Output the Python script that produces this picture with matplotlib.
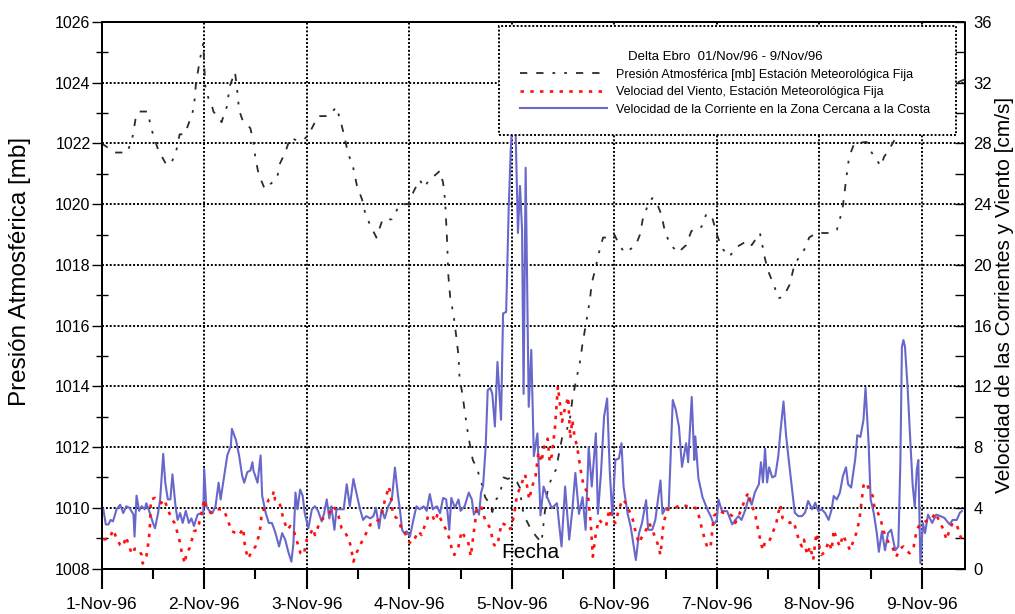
import matplotlib
matplotlib.use("Agg")
import matplotlib.pyplot as plt
import matplotlib.dates as mdates
import matplotlib.patches as mpatches
from matplotlib.lines import Line2D
import numpy as np
import pandas as pd

plt.rcParams['font.family'] = ['Liberation Sans', 'DejaVu Sans']

START = pd.Timestamp('1996-11-01')

# Atmospheric pressure [mb] (day offset from 1-Nov-96, value)
press_day = [0.0, 0.13, 0.25, 0.30, 0.33, 0.36, 0.45, 0.47, 0.50, 0.55, 0.63, 0.68, 0.73, 0.76,
             0.81, 0.88, 0.90, 0.92, 0.96, 0.99, 1.01, 1.04, 1.07, 1.09, 1.17, 1.20, 1.22, 1.25,
             1.30, 1.32, 1.34, 1.37, 1.45, 1.48, 1.50, 1.53, 1.59, 1.71, 1.74, 1.79, 1.84, 1.90,
             1.96, 2.01, 2.05, 2.11, 2.21, 2.29, 2.34, 2.37, 2.40, 2.45, 2.49, 2.54, 2.57, 2.62,
             2.68, 2.74, 2.83, 2.91, 2.99, 3.04, 3.10, 3.15, 3.20, 3.25, 3.30, 3.33, 3.35, 3.37,
             3.38, 3.40, 3.43, 3.46, 3.48, 3.49, 3.52, 3.54, 3.57, 3.60, 3.62, 3.66, 3.71, 3.74,
             3.79, 3.81, 3.84, 3.88, 3.92, 3.96, 4.00, 4.05, 4.08, 4.10, 4.14, 4.19, 4.24, 4.29,
             4.32, 4.35, 4.40, 4.43, 4.49, 4.54, 4.57, 4.59, 4.63, 4.66, 4.69, 4.72, 4.74, 4.76,
             4.78, 4.81, 4.85, 4.89, 4.98, 5.00, 5.05, 5.10, 5.15, 5.21, 5.25, 5.28, 5.32, 5.37,
             5.41, 5.46, 5.49, 5.54, 5.62, 5.70, 5.75, 5.80, 5.85, 5.90, 5.96, 6.00, 6.05, 6.12,
             6.20, 6.30, 6.34, 6.42, 6.47, 6.50, 6.56, 6.60, 6.65, 6.71, 6.76, 6.81, 6.87, 6.90,
             6.97, 7.12, 7.17, 7.20, 7.23, 7.26, 7.29, 7.34, 7.46, 7.51, 7.57, 7.60, 7.63, 7.68,
             7.73, 7.76, 7.85, 8.00, 8.20, 8.41]
press_mb = [1022.0, 1021.7, 1021.7, 1022.2, 1022.8, 1023.05, 1023.05, 1022.7, 1022.3, 1021.8,
            1021.3, 1021.35, 1021.8, 1022.3, 1022.3, 1022.95, 1023.2, 1024.0, 1024.8, 1025.3,
            1023.9, 1023.5, 1023.3, 1023.05, 1022.7, 1023.05, 1023.2, 1023.9, 1024.35, 1023.8,
            1023.1, 1022.8, 1022.5, 1022.05, 1021.5, 1021.0, 1020.5, 1020.85, 1021.35, 1021.7,
            1022.2, 1022.1, 1022.1, 1022.25, 1022.5, 1022.9, 1022.9, 1023.2, 1022.6, 1022.2,
            1021.7, 1021.25, 1020.6, 1020.15, 1019.7, 1019.3, 1018.9, 1019.5, 1019.5, 1020.0,
            1020.0, 1020.4, 1020.8, 1020.55, 1020.85, 1020.95, 1021.1, 1020.7, 1020.1, 1018.7,
            1017.7, 1016.9, 1016.4, 1015.6, 1015.0, 1014.3, 1013.7, 1013.2, 1012.5, 1011.9,
            1011.57, 1011.3, 1010.75, 1010.35, 1010.1, 1009.86, 1010.25, 1010.4, 1011.0, 1010.95,
            1011.0, 1010.85, 1010.65, 1010.0, 1009.6, 1009.27, 1009.05, 1008.85, 1009.8, 1010.6,
            1011.1, 1011.25, 1012.3, 1012.6, 1013.0, 1013.55, 1014.25, 1014.7, 1015.4, 1016.0,
            1016.4, 1016.8, 1017.4, 1017.8, 1018.4, 1018.9, 1018.9, 1019.0, 1018.65, 1018.4,
            1018.5, 1018.65, 1019.0, 1019.55, 1019.9, 1020.2, 1020.07, 1019.65, 1019.15, 1018.7,
            1018.4, 1018.65, 1019.1, 1019.25, 1019.25, 1019.7, 1019.5, 1019.0, 1018.55, 1018.27,
            1018.6, 1018.8, 1018.65, 1019.05, 1018.2, 1017.8, 1017.3, 1016.9, 1016.95, 1017.35,
            1018.05, 1018.27, 1018.6, 1018.9, 1019.05, 1019.05, 1019.15, 1019.5, 1019.95, 1020.8,
            1021.55, 1022.0, 1022.05, 1021.7, 1021.4, 1021.25, 1021.55, 1021.8, 1022.1, 1022.3,
            1022.8, 1023.3, 1023.8, 1024.1]

# Wind speed at the fixed weather station
wind_day = [0.016, 0.08, 0.11, 0.145, 0.18, 0.21, 0.235, 0.27, 0.29, 0.31, 0.32, 0.355, 0.39, 0.40,
            0.435, 0.46, 0.47, 0.48, 0.52, 0.55, 0.58, 0.61, 0.645, 0.68, 0.71, 0.74, 0.76, 0.78,
            0.81, 0.83, 0.855, 0.88, 0.90, 0.935, 0.97, 1.0, 1.02, 1.065, 1.10, 1.13, 1.18, 1.21,
            1.25, 1.27, 1.31, 1.34, 1.38, 1.39, 1.40, 1.43, 1.46, 1.50, 1.53, 1.55, 1.56, 1.60,
            1.63, 1.66, 1.68, 1.69, 1.73, 1.75, 1.77, 1.81, 1.84, 1.87, 1.91, 1.94, 1.97, 2.0,
            2.03, 2.06, 2.08, 2.13, 2.16, 2.21, 2.26, 2.29, 2.31, 2.34, 2.37, 2.41, 2.43, 2.455,
            2.49, 2.54, 2.58, 2.62, 2.65, 2.70, 2.73, 2.76, 2.78, 2.80, 2.82, 2.84, 2.88, 2.91,
            2.93, 2.96, 2.99, 3.02, 3.055, 3.09, 3.12, 3.15, 3.185, 3.22, 3.25, 3.28, 3.33, 3.36,
            3.40, 3.42, 3.44, 3.48, 3.51, 3.54, 3.57, 3.60, 3.62, 3.66, 3.70, 3.74, 3.79, 3.82,
            3.84, 3.87, 3.90, 3.93, 3.96, 3.99, 4.02, 4.05, 4.10, 4.13, 4.17, 4.20, 4.23, 4.26,
            4.29, 4.31, 4.35, 4.37, 4.39, 4.42, 4.45, 4.47, 4.49, 4.51, 4.55, 4.57, 4.59, 4.61,
            4.64, 4.67, 4.70, 4.74, 4.77, 4.79, 4.82, 4.85, 4.88, 4.92, 4.95, 4.98, 5.01, 5.045,
            5.08, 5.11, 5.14, 5.18, 5.21, 5.24, 5.27, 5.31, 5.34, 5.37, 5.42, 5.45, 5.48, 5.52,
            5.57, 5.62, 5.66, 5.71, 5.76, 5.81, 5.84, 5.875, 5.91, 5.94, 5.97, 6.02, 6.065, 6.11,
            6.15, 6.18, 6.21, 6.24, 6.28, 6.31, 6.33, 6.37, 6.41, 6.43, 6.45, 6.47, 6.51, 6.55,
            6.58, 6.60, 6.62, 6.64, 6.68, 6.71, 6.75, 6.78, 6.81, 6.83, 6.85, 6.88, 6.91, 6.94,
            6.97, 7.0, 7.02, 7.055, 7.09, 7.12, 7.14, 7.17, 7.2, 7.23, 7.26, 7.30, 7.33, 7.36,
            7.39, 7.41, 7.43, 7.46, 7.49, 7.52, 7.54, 7.57, 7.60, 7.62, 7.66, 7.69, 7.71, 7.75,
            7.79, 7.82, 7.85, 7.88, 7.92, 7.95, 7.98, 8.01, 8.06, 8.09, 8.13, 8.18, 8.21, 8.24,
            8.27, 8.30, 8.34, 8.37, 8.40]
wind_cms = [1.9, 2.0, 2.55, 2.0, 1.55, 1.45, 2.1, 1.45, 1.0, 1.0, 1.3, 1.3, 0.9, 0.33,
            0.8, 1.9, 2.8, 4.55, 4.65, 4.45, 4.3, 4.55, 3.9, 3.3, 3.0, 2.33, 1.8, 1.1,
            0.33, 1.1, 1.3, 1.9, 2.45, 2.55, 3.55, 4.55, 4.1, 3.65, 3.8, 3.9, 3.9, 3.55,
            2.8, 2.45, 2.33, 2.2, 2.65, 1.9, 1.3, 0.65, 1.1, 1.45, 2.1, 2.8, 3.65, 4.1,
            4.55, 4.65, 5.1, 4.55, 4.45, 3.9, 3.3, 2.55, 2.8, 2.55, 1.65, 1.0, 0.9, 1.9,
            2.2, 2.65, 2.2, 3.1, 3.3, 3.55, 4.1, 3.8, 3.45, 2.65, 2.45, 1.9, 1.45, 0.45,
            1.1, 1.8, 2.33, 2.9, 2.9, 3.2, 3.55, 4.45, 4.9, 5.4, 4.8, 3.55, 3.3, 2.9,
            2.45, 2.33, 1.8, 1.65, 2.0, 2.45, 2.2, 2.8, 3.45, 3.55, 3.1, 3.65, 2.9, 2.55,
            1.8, 1.0, 0.9, 1.45, 2.45, 2.1, 1.9, 0.8, 1.9, 4.0, 4.1, 3.2, 2.65, 1.65,
            1.45, 1.9, 3.0, 2.9, 2.55, 2.65, 3.45, 4.8, 5.67, 6.2, 4.55, 5.45, 6.0, 7.67,
            7.0, 7.9, 8.55, 7.0, 7.45, 9.2, 12.0, 10.8, 9.67, 10.3, 11.3, 8.55, 9.78, 8.78,
            7.9, 6.55, 5.45, 5.0, 3.0, 0.78, 2.33, 3.22, 3.0, 2.78, 3.9, 3.22, 3.0, 3.9,
            4.55, 4.33, 3.9, 3.22, 2.33, 1.67, 2.1, 2.55, 3.0, 2.55, 1.67, 0.9, 3.0, 3.9,
            3.9, 4.1, 4.2, 4.1, 4.1, 3.9, 3.0, 2.1, 1.33, 1.5, 3.45, 3.8, 3.67, 3.67,
            3.45, 3.0, 3.45, 3.9, 4.67, 5.0, 4.33, 3.67, 2.33, 1.67, 1.2, 1.78, 1.78, 2.45,
            3.0, 3.67, 4.2, 3.33, 3.2, 3.0, 3.1, 2.33, 1.67, 1.45, 1.9, 0.9, 1.45, 0.56,
            2.33, 1.45, 0.9, 1.1, 1.78, 1.2, 2.55, 1.9, 1.45, 2.2, 1.78, 1.2, 1.78, 2.33,
            3.2, 4.33, 5.45, 5.67, 5.1, 4.78, 3.9, 3.67, 3.2, 2.55, 1.9, 1.55, 1.45, 0.78,
            1.33, 1.45, 1.2, 1.0, 1.45, 2.55, 2.9, 3.0, 3.2, 3.2, 3.67, 3.0, 2.55, 1.9,
            2.55, 3.0, 2.9, 2.2, 1.78]

# Near-shore current speed
curr_day = [0.016, 0.04, 0.065, 0.087, 0.11, 0.145, 0.18, 0.21, 0.24, 0.27, 0.31, 0.32, 0.34, 0.365,
            0.39, 0.42, 0.435, 0.47, 0.50, 0.52, 0.55, 0.57, 0.60, 0.62, 0.645, 0.67, 0.69, 0.72,
            0.74, 0.765, 0.79, 0.82, 0.85, 0.875, 0.90, 0.935, 0.97, 0.99, 1.0, 1.02, 1.05, 1.08,
            1.11, 1.14, 1.16, 1.19, 1.225, 1.26, 1.27, 1.31, 1.34, 1.37, 1.39, 1.42, 1.45, 1.47,
            1.48, 1.52, 1.55, 1.565, 1.60, 1.63, 1.66, 1.69, 1.73, 1.76, 1.79, 1.82, 1.85, 1.87,
            1.89, 1.91, 1.935, 1.96, 1.98, 2.016, 2.05, 2.08, 2.11, 2.146, 2.17, 2.195, 2.22, 2.24,
            2.27, 2.29, 2.325, 2.36, 2.39, 2.42, 2.455, 2.49, 2.52, 2.55, 2.58, 2.62, 2.65, 2.675,
            2.705, 2.73, 2.76, 2.795, 2.83, 2.86, 2.89, 2.91, 2.93, 2.95, 2.975, 3.006, 3.04, 3.07,
            3.10, 3.14, 3.17, 3.20, 3.23, 3.27, 3.30, 3.33, 3.36, 3.39, 3.41, 3.445, 3.48, 3.50,
            3.54, 3.58, 3.61, 3.63, 3.66, 3.68, 3.70, 3.72, 3.745, 3.765, 3.79, 3.81, 3.835, 3.86,
            3.895, 3.915, 3.945, 3.97, 3.99, 4.01, 4.035, 4.06, 4.08, 4.10, 4.115, 4.135, 4.165, 4.19,
            4.215, 4.25, 4.28, 4.31, 4.345, 4.39, 4.44, 4.485, 4.52, 4.56, 4.59, 4.62, 4.655, 4.69,
            4.72, 4.75, 4.78, 4.82, 4.84, 4.87, 4.90, 4.93, 4.955, 4.98, 5.01, 5.045, 5.07, 5.09,
            5.13, 5.16, 5.21, 5.24, 5.27, 5.31, 5.33, 5.37, 5.40, 5.45, 5.47, 5.50, 5.53, 5.57,
            5.60, 5.63, 5.66, 5.70, 5.72, 5.755, 5.78, 5.79, 5.82, 5.86, 5.91, 5.94, 5.97, 6.0,
            6.015, 6.05, 6.10, 6.15, 6.18, 6.21, 6.24, 6.28, 6.31, 6.34, 6.37, 6.41, 6.43, 6.45,
            6.47, 6.49, 6.51, 6.54, 6.57, 6.60, 6.62, 6.65, 6.675, 6.70, 6.73, 6.76, 6.795, 6.83,
            6.86, 6.89, 6.93, 6.96, 6.99, 7.02, 7.055, 7.09, 7.12, 7.14, 7.17, 7.20, 7.23, 7.26,
            7.28, 7.31, 7.35, 7.37, 7.40, 7.43, 7.45, 7.48, 7.50, 7.53, 7.56, 7.58, 7.61, 7.64,
            7.67, 7.70, 7.74, 7.77, 7.79, 7.805, 7.82, 7.835, 7.86, 7.89, 7.91, 7.93, 7.95, 7.965,
            7.985, 8.01, 8.03, 8.06, 8.10, 8.14, 8.18, 8.22, 8.27, 8.30, 8.34, 8.37, 8.39]
curr_cms = [3.9, 2.9, 2.9, 3.2, 3.1, 3.9, 4.2, 3.65, 4.1, 4.0, 3.55, 2.1, 4.8, 3.8,
            4.1, 3.9, 4.3, 3.65, 3.0, 2.65, 3.65, 4.55, 7.55, 5.65, 4.55, 4.55, 6.2, 4.1,
            3.2, 3.65, 3.0, 3.8, 3.0, 3.3, 2.8, 3.55, 3.65, 3.55, 6.55, 4.1, 3.8, 3.65,
            4.1, 5.65, 4.55, 5.9, 7.45, 8.1, 9.2, 8.45, 7.45, 6.1, 5.65, 6.35, 6.45, 7.0,
            6.45, 5.65, 7.45, 4.8, 3.65, 3.0, 3.0, 2.45, 1.45, 2.33, 1.9, 1.1, 0.45, 1.65,
            5.0, 3.9, 5.2, 4.8, 3.65, 2.65, 3.9, 4.1, 3.8, 3.1, 3.65, 4.55, 3.3, 4.1,
            2.55, 3.9, 3.9, 3.9, 5.55, 4.1, 5.9, 4.8, 3.9, 3.2, 3.45, 3.3, 3.45, 4.0,
            2.65, 3.9, 3.3, 4.1, 4.55, 6.65, 4.8, 3.8, 2.55, 2.33, 2.45, 2.1, 3.2, 4.1,
            3.9, 4.1, 3.8, 4.9, 3.9, 4.1, 3.65, 4.65, 4.55, 2.55, 4.65, 4.0, 4.55, 3.8,
            4.1, 5.0, 4.55, 3.55, 3.9, 3.55, 5.0, 5.45, 8.0, 11.75, 11.9, 11.5, 9.35, 13.6,
            9.8, 16.8, 16.9, 23.8, 27.6, 30.0, 29.5, 22.1, 25.2, 22.3, 11.5, 26.4, 10.65, 14.4,
            7.4, 8.9, 3.5, 5.4, 4.7, 3.97, 4.3, 1.45, 5.4, 1.9, 3.85, 6.3, 3.6, 4.7,
            2.55, 8.0, 5.4, 8.9, 3.6, 6.3, 10.0, 11.2, 6.5, 3.5, 7.15, 7.25, 8.25, 5.4,
            3.6, 2.75, 0.56, 2.3, 3.0, 4.5, 2.55, 2.55, 3.2, 5.8, 3.6, 3.97, 3.97, 11.1,
            10.45, 9.35, 6.7, 8.25, 7.0, 11.3, 7.15, 8.7, 5.95, 4.7, 3.85, 3.45, 2.9, 3.2,
            4.55, 3.78, 3.78, 2.9, 3.2, 3.45, 3.2, 3.9, 4.67, 4.2, 5.0, 5.55, 7.0, 5.67,
            7.9, 5.67, 6.67, 6.0, 6.1, 7.45, 9.0, 11.0, 8.78, 7.22, 5.45, 3.67, 3.45, 3.45,
            3.67, 4.45, 3.9, 4.33, 3.78, 3.9, 3.67, 3.2, 3.9, 4.78, 4.55, 5.0, 6.1, 6.67,
            5.55, 5.33, 7.22, 8.78, 8.67, 9.78, 11.9, 8.3, 4.55, 3.67, 2.33, 1.1, 2.45, 1.2,
            2.33, 2.55, 1.2, 1.45, 7.0, 14.6, 15.05, 14.6, 12.0, 8.0, 5.5, 4.07, 6.5, 7.15,
            0.35, 3.0, 2.33, 3.55, 3.0, 3.55, 3.45, 3.33, 2.9, 3.2, 3.2, 3.67, 3.78]

legend_title = "Delta Ebro  01/Nov/96 - 9/Nov/96"
label_press = "Presión Atmosférica [mb] Estación Meteorológica Fija"
label_wind = "Velociad del Viento, Estación Meteorológica Fija"
label_curr = "Velocidad de la Corriente en la Zona Cercana a la Costa"


def to_dates(days):
    return START + pd.to_timedelta(np.asarray(days), unit='D')


fig = plt.figure(figsize=(10.15, 6.14), dpi=100)
ax = fig.add_axes([0.1002, 0.0741, 0.8505, 0.8901])
ax2 = ax.twinx()

press_style = dict(color='#2b2b2b', lw=1.3, dashes=[4, 5, 4, 5, 1.5, 5, 1.5, 5])
wind_style = dict(color='#ff1010', lw=1.9, dashes=[1.3, 2.4])
curr_style = dict(color='#6868cc', lw=1.5)

ax.plot(to_dates(press_day), press_mb, **press_style)
ax2.plot(to_dates(curr_day), curr_cms, **curr_style, zorder=2)
ax2.plot(to_dates(wind_day), wind_cms, **wind_style, zorder=3)

xmin = START
xmax = START + pd.Timedelta(days=8.42)
ax.set_xlim(xmin, xmax)
ax.set_ylim(1008, 1026)
ax2.set_ylim(0, 36)

# ticks
ax.set_yticks(np.arange(1008, 1027, 2))
ax.set_yticks(np.arange(1008, 1027, 1), minor=True)
ax2.set_yticks(np.arange(0, 37, 4))
ax2.set_yticks(np.arange(0, 37, 2), minor=True)
ax.xaxis.set_major_locator(mdates.DayLocator())
ax.xaxis.set_minor_locator(mdates.HourLocator(byhour=[12]))
ax.xaxis.set_major_formatter(mdates.DateFormatter('%-d-%b-%y'))

ax.tick_params(axis='x', which='major', direction='out', length=14.5, width=1.5,
               labelsize=12.5, pad=6)
ax.tick_params(axis='x', which='minor', direction='out', length=7.5, width=1.5)
ax.tick_params(axis='y', which='major', direction='out', length=7, width=1.0,
               labelsize=11.5, pad=1)
ax.tick_params(axis='y', which='minor', direction='inout', length=8, width=1.0)
ax2.tick_params(axis='y', which='major', direction='in', length=7, width=1.0,
                labelsize=12, pad=6)
ax2.tick_params(axis='y', which='minor', direction='in', length=7, width=1.0)

ax.grid(True, which='major', color='black', lw=1.4, linestyle=(0, (1, 1)))
for a in (ax, ax2):
    for sp in a.spines.values():
        sp.set_linestyle((0, (1, 1)))
        sp.set_linewidth(1.4)

ax.set_ylabel("Presión Atmosférica [mb]", fontsize=17.5, va='center')
ax.yaxis.set_label_coords(-0.095, 0.543)
ax2.set_ylabel("Velocidad de las Corrientes y Viento [cm/s]", fontsize=15,
               rotation=90, va='center')
ax2.yaxis.set_label_coords(1.046, 0.5)
ax.set_xlabel("Fecha", fontsize=15, va='baseline')
ax.xaxis.set_label_coords(0.497, 0.019)

# legend panel
box = mpatches.Rectangle((0.460, 0.7932), 0.5296, 0.1995, transform=ax2.transAxes,
                         facecolor='white', edgecolor='black', lw=1.4,
                         linestyle=(0, (1, 1)), zorder=5)
ax2.add_patch(box)
handles = [Line2D([], [], **press_style), Line2D([], [], **wind_style),
           Line2D([], [], **curr_style)]
leg = ax2.legend(handles, [label_press, label_wind, label_curr], loc='upper left',
                 bbox_to_anchor=(0.474, 0.963), frameon=False, fontsize=9,
                 title=legend_title, title_fontsize=9.5, handlelength=7.0,
                 handletextpad=0.7, labelspacing=0.45, borderpad=0.2)
leg.set_zorder(6)

fig.savefig("out.png", dpi=100)
